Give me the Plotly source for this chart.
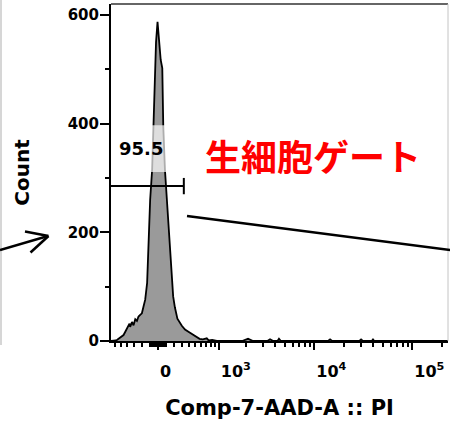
import numpy as np
import plotly.graph_objects as go

# ---------------- data ----------------
# histogram of Comp-7-AAD-A :: PI (raw fluorescence intensity, event count)
intensity = [-685, -620, -590, -573, -545, -515, -488, -460, -432, -406, -382, -368,
             -358, -332, -310, -286, -263, -242, -220, -198, -178, -156, -132, -120,
             -95, -71, -59, -41, -24, -6, 15, 32, 51, 63, 83, 108, 144, 165, 185,
             207, 240, 300, 345, 420, 470, 530, 580, 641, 700, 719, 760, 838, 950,
             1800, 2080, 2350, 3300, 3520, 3800, 4200, 4350, 4550, 13800, 14480, 15200,
             28800, 30000, 31300, 38500, 39700, 41000, 231000]
counts = [0, 0, 1, 2, 4, 6, 9, 11, 17, 23, 26, 32,
          26, 35, 29, 40, 37, 45, 48, 51, 63, 76, 107, 167,
          260, 315, 388, 499, 550, 587, 548, 517, 502, 394, 315, 260, 167, 118, 82,
          62, 41, 28, 21, 15, 11, 7, 4, 3, 5, 5, 1, 2, 0,
          0, 4, 0, 0, 3, 0, 0, 4, 0, 0, 3, 0,
          0, 3, 0, 0, 3, 0, 0]

x_major = [0, 1000, 10000, 100000]
x_major_labels = ["0", "10<sup>3</sup>", "10<sup>4</sup>", "10<sup>5</sup>"]
x_minor = ([-600, -500, -400, -300, -200, -100]
           + [-90, -80, -70, -60, -50, -40, -30, -20, -10, 10, 20, 30, 40, 50, 60, 70, 80, 90]
           + [100, 200, 300, 400, 500, 600, 700, 800, 900]
           + [2000, 3000, 4000, 5000, 6000, 7000, 8000, 9000]
           + [20000, 30000, 40000, 50000, 60000, 70000, 80000, 90000, 200000])
x_limits = [-685, 231000]

y_major = [0, 200, 400, 600]
y_minor = [100, 300, 500]
y_limits = [0, 620]

gate_name = "95.5"
gate_upper = 328        # gate right end (intensity)
gate_level = 285        # gate bar height (count)
gate_label_pos = (-209, 355)
gate_box_x = [-600, 110]
gate_box_y = [311, 397]

annotation_text = "生細胞ゲート"

# ---------------- scale ----------------
W_BIEX = 255.0


def biex(v):
    return np.arcsinh(np.asarray(v, dtype=float) / (2 * W_BIEX)) / np.log(10)


FONT = "DejaVu Sans"

fig = go.Figure()
fig.add_trace(go.Scatter(
    x=biex(intensity).tolist(), y=counts, mode="lines",
    line=dict(color="black", width=1.8, shape="linear"),
    fill="tozeroy", fillcolor="#9a9a9a", hoverinfo="skip", showlegend=False,
))

shapes = []
# gate label background (semi transparent white)
shapes.append(dict(type="rect", xref="x", yref="y",
                   x0=float(biex(gate_box_x[0])), x1=float(biex(gate_box_x[1])),
                   y0=gate_box_y[0], y1=gate_box_y[1],
                   fillcolor="rgba(255,255,255,0.68)", line=dict(width=0), layer="above"))
# gate bar
shapes.append(dict(type="line", xref="x", yref="y",
                   x0=float(biex(x_limits[0])), x1=float(biex(gate_upper)),
                   y0=gate_level, y1=gate_level, line=dict(color="black", width=2), layer="above"))
shapes.append(dict(type="line", xref="x", yref="y",
                   x0=float(biex(gate_upper)), x1=float(biex(gate_upper)),
                   y0=gate_level - 15, y1=gate_level + 15, line=dict(color="black", width=2), layer="above"))

# frame pieces (paper coords)
PW, PH = 337.0, 337.0
def px(xp, yp):
    return (xp - 111) / PW, (341 - yp) / PH

shapes.append(dict(type="line", xref="paper", yref="paper", x0=0, x1=1, y0=1, y1=1,
                   line=dict(color="#666666", width=2)))
shapes.append(dict(type="line", xref="paper", yref="paper", x0=1, x1=1, y0=0, y1=1,
                   line=dict(color="#c4c4c4", width=1)))
# left grey panel edge
a, b = px(1, 0); c, d = px(1, 345)
shapes.append(dict(type="line", xref="paper", yref="paper", x0=a, x1=c, y0=b, y1=d,
                   line=dict(color="#c8c8c8", width=1.5)))
# arrow on the left
for (p0, p1) in [((0, 250), (48, 236)), ((25, 231.5), (48.5, 236)), ((30.5, 252.5), (48.5, 236))]:
    a, b = px(*p0); c, d = px(*p1)
    shapes.append(dict(type="line", xref="paper", yref="paper", x0=a, x1=c, y0=b, y1=d,
                       line=dict(color="black", width=2.5)))
# long pointer line
a, b = px(187, 216); c, d = px(452, 250.3)
shapes.append(dict(type="line", xref="paper", yref="paper", x0=a, x1=c, y0=b, y1=d,
                   line=dict(color="black", width=2.5)))

annotations = [
    dict(x=float(biex(gate_label_pos[0])), y=gate_label_pos[1], xref="x", yref="y",
         text=gate_name, showarrow=False,
         font=dict(family=FONT, size=18, color="black", weight="bold")),
    dict(x=px(313, 155)[0], y=px(313, 155)[1], xref="paper", yref="paper",
         text=annotation_text, showarrow=False,
         font=dict(family="Noto Sans CJK JP", size=36, color="#ff0000", weight="bold")),
]

fig.update_layout(
    width=450, height=424,
    margin=dict(l=111, r=2, t=4, b=83, pad=0, autoexpand=False),
    paper_bgcolor="white", plot_bgcolor="white",
    showlegend=False,
    shapes=shapes, annotations=annotations,
    xaxis=dict(
        range=biex(x_limits).tolist(), automargin=False,
        tickmode="array", tickvals=biex(x_major).tolist(), ticktext=x_major_labels,
        ticks="outside", ticklen=7, tickwidth=2, tickcolor="black",
        ticklabelposition="outside right", ticklabelstandoff=15,
        tickfont=dict(family=FONT, size=16, color="black", weight="bold"),
        showline=True, linecolor="black", linewidth=2,
        showgrid=False, zeroline=False,
        minor=dict(tickmode="array", tickvals=biex(x_minor).tolist(), ticks="outside",
                   ticklen=4, tickwidth=1.5, tickcolor="black", showgrid=False),
        title=dict(text="Comp-7-AAD-A :: PI", standoff=20,
                   font=dict(family=FONT, size=21, color="black", weight="bold")),
    ),
    yaxis=dict(
        range=y_limits, automargin=False,
        tickmode="array", tickvals=y_major, ticktext=[str(v) for v in y_major],
        ticks="outside", ticklen=9, tickwidth=2, tickcolor="black",
        ticklabelstandoff=-2,
        tickfont=dict(family=FONT, size=15, color="black", weight="bold"),
        showline=True, linecolor="black", linewidth=2,
        showgrid=False, zeroline=False,
        minor=dict(tickmode="array", tickvals=y_minor, ticks="outside",
                   ticklen=4, tickwidth=1.5, tickcolor="black", showgrid=False),
        title=dict(text="Count", standoff=33,
                   font=dict(family=FONT, size=20, color="black", weight="bold")),
    ),
)

fig.write_html("out.html", config={"displayModeBar": False},
               post_script="document.body.style.margin='0px';document.body.style.overflow='hidden';")
